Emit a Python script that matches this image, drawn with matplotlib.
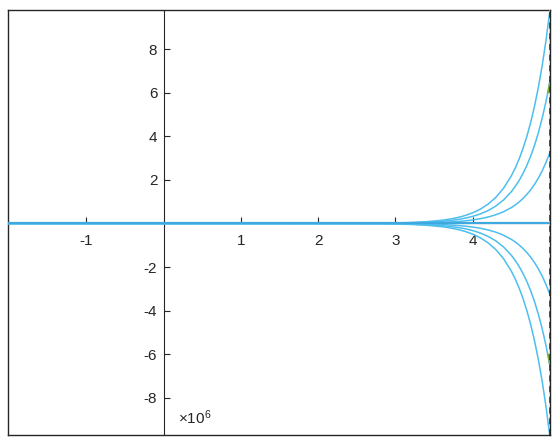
import numpy as np
import matplotlib
matplotlib.use('Agg')
import matplotlib.pyplot as plt

# =============================================================================
# Data (y values in units of 1e6)
# =============================================================================
x = [-2.0, 2.5, 3.0, 3.2, 3.4, 3.6, 3.7, 3.8, 3.9, 4.0, 4.1, 4.2, 4.3, 4.4,
     4.5, 4.55, 4.6, 4.65, 4.7, 4.75, 4.8, 4.85, 4.9, 4.95, 5.0]

up1 = [0, 0.002, 0.008, 0.015, 0.027, 0.049, 0.066, 0.089, 0.121, 0.163, 0.220,
       0.297, 0.400, 0.540, 0.729, 0.847, 0.985, 1.144, 1.329, 1.544, 1.794,
       2.084, 2.422, 2.814, 3.269]
up2 = [0, 0.004, 0.016, 0.030, 0.054, 0.098, 0.132, 0.179, 0.241, 0.326, 0.439,
       0.593, 0.801, 1.081, 1.459, 1.695, 1.969, 2.288, 2.658, 3.088, 3.588,
       4.169, 4.843, 5.627, 6.538]
up3 = [0, 0.005, 0.024, 0.044, 0.081, 0.147, 0.199, 0.268, 0.362, 0.488, 0.659,
       0.890, 1.201, 1.621, 2.188, 2.542, 2.954, 3.432, 3.987, 4.633, 5.382,
       6.253, 7.265, 8.441, 9.807]
lo1 = [0, -0.002, -0.008, -0.015, -0.027, -0.049, -0.066, -0.089, -0.121, -0.163,
       -0.220, -0.297, -0.400, -0.540, -0.729, -0.847, -0.985, -1.144, -1.329,
       -1.544, -1.794, -2.084, -2.422, -2.814, -3.269]
lo2 = [0, -0.004, -0.016, -0.030, -0.054, -0.098, -0.132, -0.179, -0.241, -0.326,
       -0.439, -0.593, -0.801, -1.081, -1.459, -1.695, -1.969, -2.288, -2.658,
       -3.088, -3.588, -4.169, -4.843, -5.627, -6.538]
lo3 = [0, -0.005, -0.024, -0.044, -0.081, -0.147, -0.199, -0.268, -0.362, -0.488,
       -0.659, -0.890, -1.201, -1.621, -2.188, -2.542, -2.954, -3.432, -3.987,
       -4.633, -5.382, -6.253, -7.265, -8.441, -9.807]

zero_x = [-2.0, 5.0]
zero_y = [0, 0]

green_x = [4.975, 5.0]
green_up = [6.0, 6.54]
green_lo = [-6.0, -6.54]

x_ticks = [-1, 1, 2, 3, 4]
y_ticks = [-8, -6, -4, -2, 2, 4, 6, 8]

# =============================================================================
# Plotting
# =============================================================================
plt.rcParams['font.family'] = ['Liberation Sans', 'DejaVu Sans']
plt.rcParams['mathtext.fontset'] = 'custom'
plt.rcParams['mathtext.rm'] = 'Liberation Sans'
plt.rcParams['mathtext.it'] = 'Liberation Sans'

fig = plt.figure(figsize=(5.6, 4.45), dpi=100, facecolor='w')
pos = [8/560, 10/445, 542/560, 425/445]

# frame box behind
frame = fig.add_axes(pos)
frame.set_xticks([])
frame.set_yticks([])
for s in frame.spines.values():
    s.set_color('#262626')
    s.set_linewidth(1.0)

ax = fig.add_axes(pos, facecolor='none')

blue = '#4DBEEE'
for c in [up1, up2, up3, lo1, lo2, lo3]:
    ax.plot(x, c, color=blue, lw=1.1, zorder=3, clip_on=True)
ax.plot(green_x, green_up, color='#77AC30', lw=1.1, zorder=4)
ax.plot(green_x, green_lo, color='#77AC30', lw=1.1, zorder=4)
ax.plot(zero_x, zero_y, color='#3FA8DF', lw=1.6, zorder=5)

ax.axvline(5.0, color='#262626', ls=(0, (4, 3)), lw=1.1, zorder=6, clip_on=False)

ax.set_xlim(-2.013, 5.0)
ax.set_ylim(-9.70, 9.79)

ax.spines['left'].set_position(('data', 0))
ax.spines['bottom'].set_position(('data', 0))
ax.spines['top'].set_visible(False)
ax.spines['right'].set_visible(False)
ax.spines['left'].set_color('#262626')
ax.spines['bottom'].set_color('#262626')
ax.spines['left'].set_zorder(1)
ax.spines['bottom'].set_zorder(1)

ax.set_xticks(x_ticks)
ax.set_xticklabels([str(v) for v in x_ticks])
ax.set_yticks(y_ticks)
ax.set_yticklabels([str(v) for v in y_ticks])
ax.tick_params(direction='in', length=4, width=0.8, colors='#262626',
               labelsize=11)
ax.tick_params(axis='x', pad=7.5)
ax.tick_params(axis='y', pad=4.5)

ax.text(0.314, 0.04, r'$\times10^{6}$', transform=ax.transAxes,
        fontsize=11, color='#262626', va='center', ha='left')

plt.savefig('out.png', dpi=100)
